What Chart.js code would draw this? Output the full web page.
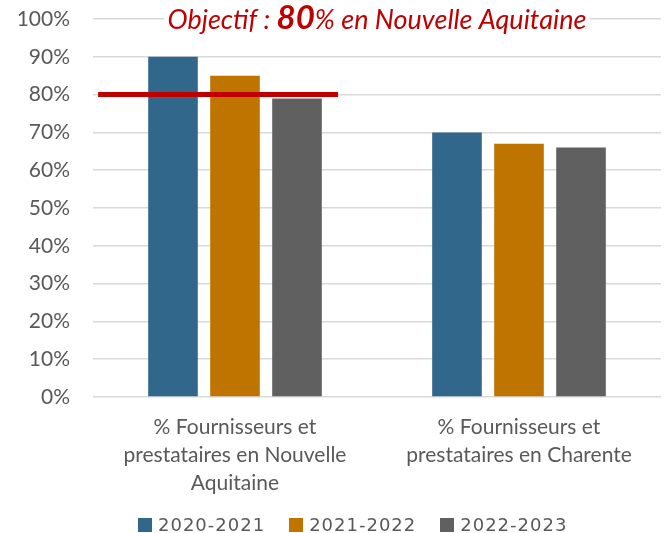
<!DOCTYPE html>
<html>
<head>
<meta charset="utf-8">
<script src="https://cdn.jsdelivr.net/npm/chart.js@4/dist/chart.umd.min.js"></script>
<style>
	body { margin: 0; background: #fff; }
	#wrap { position: relative; width: 670px; height: 533px; overflow: hidden; }
	#legend { position: absolute; left: 138px; top: 514px; display: flex; gap: 24px; font-family: 'DejaVu Sans', sans-serif; font-size: 18px; letter-spacing: 1px; color: #595959; }
	.legendItem { display: flex; align-items: center; gap: 6px; }
	.legendBox { width: 14px; height: 14px; display: inline-block; }
</style>
</head>
<body>
<div id="wrap">
	<canvas id="chart" width="670" height="533"></canvas>
	<div id="legend"></div>
</div>
<script>
const categories = [
	['% Fournisseurs et', 'prestataires en Nouvelle', 'Aquitaine'],
	['% Fournisseurs et', 'prestataires en Charente']
];
const seriesNames = ['2020-2021', '2021-2022', '2022-2023'];
const values2020 = [90, 70];
const values2021 = [85, 67];
const values2022 = [79, 66];
const yTicks = [0, 10, 20, 30, 40, 50, 60, 70, 80, 90, 100];
const targetValue = 80;

const colors = ['#31678a', '#bf7400', '#606060'];
const gray = '#595959';

// red target line over the first group + title text with white background
const targetPlugin = {
	id: 'target',
	afterDatasetsDraw(chart) {
		let ctx = chart.ctx;
		let x = chart.scales.x;
		let y = chart.scales.y;
		let catWidth = x.width / categories.length;
		let center = x.getPixelForValue(0);
		let yPos = y.getPixelForValue(targetValue);
		ctx.save();
		ctx.strokeStyle = '#c00000';
		ctx.lineWidth = 5;
		ctx.beginPath();
		ctx.moveTo(center - 0.482 * catWidth, yPos);
		ctx.lineTo(center + 0.363 * catWidth, yPos);
		ctx.stroke();
		ctx.restore();
	},
	afterDraw(chart) {
		let ctx = chart.ctx;
		let area = chart.chartArea;
		let parts = [
			{ text: 'Objectif : ', font: 'italic 27px Lato' },
			{ text: '80', font: 'italic bold 33px Lato' },
			{ text: '% en Nouvelle Aquitaine', font: 'italic 27px Lato' }
		];
		ctx.save();
		let total = 0;
		parts.forEach((p) => {
			ctx.font = p.font;
			p.w = ctx.measureText(p.text).width;
			total += p.w;
		});
		let x = (area.left + area.right) / 2 - total / 2;
		let baseline = 29;
		ctx.fillStyle = '#fff';
		ctx.fillRect(x - 3, 4, total + 6, 32);
		ctx.fillStyle = '#c00000';
		ctx.textBaseline = 'alphabetic';
		parts.forEach((p) => {
			ctx.font = p.font;
			ctx.fillText(p.text, x, baseline);
			x += p.w;
		});
		ctx.restore();
	}
};

const ctx = document.getElementById('chart').getContext('2d');
const datasetValues = [values2020, values2021, values2022];

let myChart = new Chart(ctx, {
	type: 'bar',
	data: {
		labels: categories,
		datasets: seriesNames.map((name, i) => ({
			label: name,
			data: datasetValues[i],
			backgroundColor: colors[i],
			categoryPercentage: 0.655,
			barPercentage: 0.8
		}))
	},
	options: {
		responsive: false,
		animation: false,
		layout: {
			padding: { top: 19, right: 9, bottom: 28, left: 0 }
		},
		scales: {
			x: {
				grid: { display: false },
				border: { display: false },
				ticks: {
					color: gray,
					padding: 8,
					maxRotation: 0,
					autoSkip: false,
					font: { family: 'Lato', size: 21, lineHeight: 1.333 }
				}
			},
			y: {
				min: 0,
				max: 100,
				afterFit: (scale) => {
					scale.width = 93;
					scale.paddingTop = 0;
					scale.paddingBottom = 0;
				},
				afterBuildTicks: (scale) => { scale.ticks = yTicks.map((v) => ({ value: v })); },
				grid: { color: '#d9d9d9', lineWidth: 1.5, drawTicks: false },
				border: { display: false },
				ticks: {
					color: gray,
					padding: 23,
					font: { family: 'Lato', size: 21 },
					callback: (v) => v + '%'
				}
			}
		},
		plugins: {
			legend: { display: false },
			tooltip: { enabled: false }
		}
	},
	plugins: [targetPlugin]
});

const buildLegend = () => {
	let legend = document.querySelector('#legend');
	seriesNames.forEach((name, i) => {
		let div = document.createElement('div');
		div.className = 'legendItem';
		div.innerHTML = `<span class="legendBox" style="background:${colors[i]}"></span><span>${name}</span>`;
		legend.appendChild(div);
	});
};
buildLegend();
</script>
</body>
</html>
